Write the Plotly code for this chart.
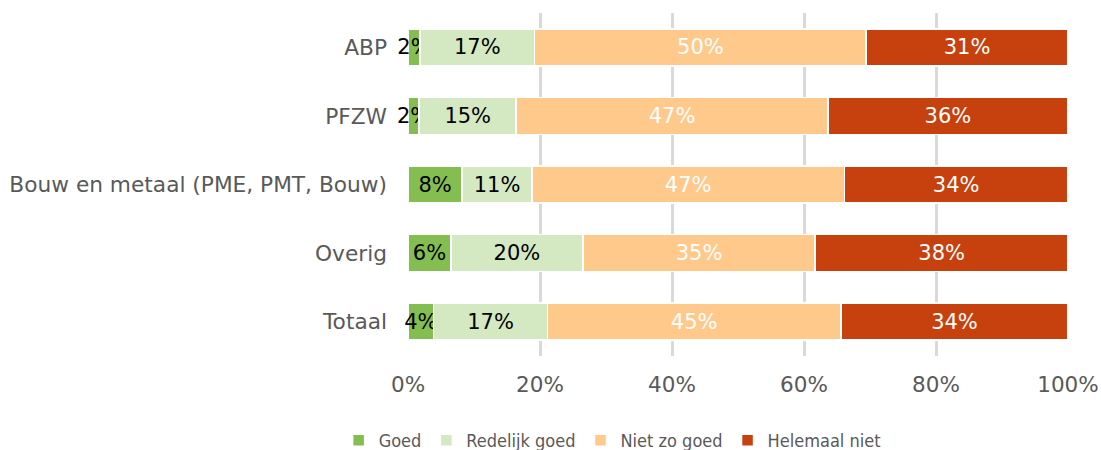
import plotly.graph_objects as go

categories = ["ABP", "PFZW", "Bouw en metaal (PME, PMT, Bouw)", "Overig", "Totaal"]
series_names = ["Goed", "Redelijk goed", "Niet zo goed", "Helemaal niet"]
goed = [1.8, 1.7, 8.2, 6.5, 3.9]
redelijk_goed = [17.4, 14.7, 10.6, 20.0, 17.2]
niet_zo_goed = [50.2, 47.2, 47.3, 35.2, 44.5]
helemaal_niet = [30.6, 36.4, 33.9, 38.3, 34.4]
labels_goed = ["2%", "2%", "8%", "6%", "4%"]
labels_redelijk = ["17%", "15%", "11%", "20%", "17%"]
labels_nzg = ["50%", "47%", "47%", "35%", "45%"]
labels_helemaal = ["31%", "36%", "34%", "38%", "34%"]
x_ticks = [0, 20, 40, 60, 80, 100]
x_tick_labels = ["0%", "20%", "40%", "60%", "80%", "100%"]

colors = ["#85BE50", "#D4E8C1", "#FFC98B", "#C7410E"]
text_colors = ["#000000", "#000000", "#FFFFFF", "#FFFFFF"]
values = [goed, redelijk_goed, niet_zo_goed, helemaal_niet]
texts = [labels_goed, labels_redelijk, labels_nzg, labels_helemaal]

fig = go.Figure()
for name, vals, txt, col, tcol in zip(series_names, values, texts, colors, text_colors):
    fig.add_trace(go.Bar(
        y=categories, x=[v / 100 for v in vals], name=name, orientation="h",
        marker=dict(color=col, line=dict(color="#FFFFFF", width=1.5)),
        text=txt, textposition="inside", insidetextanchor="middle", textangle=0,
        constraintext="none", cliponaxis=False,
        textfont=dict(family="DejaVu Sans", size=21, color=tcol),
        hoverinfo="skip",
    ))

fig.update_layout(
    barmode="stack", bargap=0.46,
    width=1101, height=450,
    margin=dict(l=408, r=33, t=13, b=94, autoexpand=False),
    paper_bgcolor="white", plot_bgcolor="white",
    font=dict(family="DejaVu Sans", color="#595959", size=20),
    legend=dict(orientation="h", xref="container", yref="container",
                x=0.556, xanchor="center", y=0.062, yanchor="top",
                font=dict(family="DejaVu Sans Condensed, DejaVu Sans", size=18, color="#595959"),
                traceorder="normal", itemwidth=30),
    showlegend=True,
)
fig.update_xaxes(range=[0, 1], tickvals=[t / 100 for t in x_ticks], ticktext=x_tick_labels,
                 showgrid=True, gridcolor="#D9D9D9", gridwidth=2.5,
                 zeroline=False, showline=False, ticks="", tickfont=dict(size=21.5),
                 ticklabelstandoff=13, automargin=False, fixedrange=True)
fig.update_yaxes(categoryorder="array", categoryarray=categories[::-1],
                 autorange=False, range=[-0.5, 4.5],
                 showgrid=False, zeroline=False, showline=False, ticks="",
                 ticklabelstandoff=20, tickfont=dict(size=21.7), automargin=False,
                 fixedrange=True)
fig.write_html("out.html")
